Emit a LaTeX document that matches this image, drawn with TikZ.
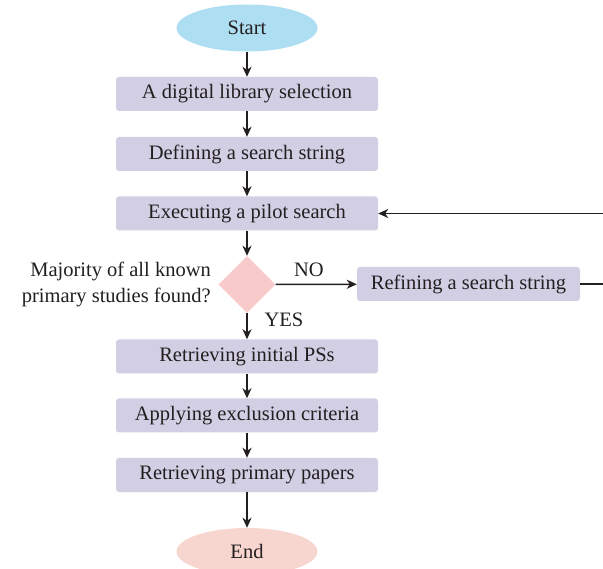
\documentclass[tikz,border=0pt]{standalone}
\usepackage{fontspec}
\setmainfont{Liberation Serif}
\usetikzlibrary{shapes.geometric,arrows.meta}
\definecolor{boxfill}{RGB}{210,207,229}
\definecolor{startfill}{RGB}{174,222,241}
\definecolor{endfill}{RGB}{248,214,208}
\definecolor{decfill}{RGB}{248,202,202}
\definecolor{ink}{RGB}{35,31,32}
\newcommand{\flowfont}{\fontsize{20.5}{26}\selectfont}
\tikzset{
  stepbox/.style={draw=none,fill=boxfill,rounded corners=3pt,minimum width=262pt,minimum height=34pt,inner sep=0pt,text=ink,font=\flowfont},
  terminal/.style={ellipse,draw=none,minimum width=141pt,minimum height=47pt,inner sep=0pt,text=ink,font=\flowfont},
  decision/.style={diamond,draw=none,fill=decfill,minimum width=57pt,minimum height=57pt,inner sep=0pt},
  lbl/.style={text=ink,font=\flowfont,inner sep=0pt},
  flow/.style={draw=ink,line width=1.5pt,-{Stealth[length=10pt,width=9pt,inset=3pt]}},
}
\begin{document}
\begin{tikzpicture}[x=1pt,y=-1pt]
\useasboundingbox (0,0) rectangle (603,569);
\clip (0,0) rectangle (603,569);
\node[terminal,fill=startfill] (start) at (247,28) {Start};
\node[stepbox] (lib) at (247,94) {A digital library selection};
\node[stepbox] (def) at (247,154) {Defining a search string};
\node[stepbox] (exe) at (247,213.5) {Executing a pilot search};
\node[decision] (dec) at (247,284.5) {};
\node[lbl,anchor=east,align=right] (q) at (211,284) {Majority of all known\\primary studies found?};
\node[stepbox,minimum width=223pt] (ref) at (468.5,284) {Refining a search string};
\node[stepbox] (ret) at (247,356.5) {Retrieving initial PSs};
\node[stepbox] (app) at (247,415.5) {Applying exclusion criteria};
\node[stepbox] (pap) at (247,475) {Retrieving primary papers};
\node[terminal,fill=endfill] (end) at (247,551.5) {End};
\node[lbl] (no) at (309,270) {NO};
\node[lbl] (yes) at (284,320) {YES};
\coordinate (loopA) at (620,284);
\coordinate (loopB) at (620,213.5);

\draw[flow] (start) -- (lib);
\draw[flow] (lib) -- (def);
\draw[flow] (def) -- (exe);
\draw[flow] (exe) -- (dec);
\draw[flow] (dec) -- (ref);
\draw[flow] (ref.east) -- (loopA) -- (loopB) -- (exe.east);
\draw[flow] (dec) -- (ret);
\draw[flow] (ret) -- (app);
\draw[flow] (app) -- (pap);
\draw[flow] (pap) -- (end);
\end{tikzpicture}
\end{document}
